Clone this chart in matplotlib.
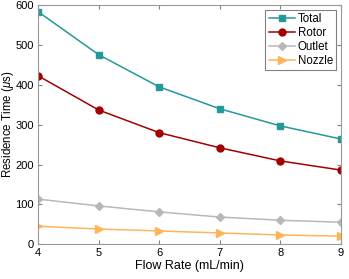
import matplotlib
matplotlib.use('Agg')
import matplotlib.pyplot as plt

plt.rcParams['font.family'] = ['Liberation Sans', 'DejaVu Sans']
plt.rcParams['mathtext.fontset'] = 'custom'
plt.rcParams['mathtext.rm'] = 'Liberation Sans'
plt.rcParams['mathtext.it'] = 'Liberation Sans:italic'

flow = [4, 5, 6, 7, 8, 9]
total = [584, 476, 395, 340, 297, 264]
rotor = [423, 337, 280, 242, 209, 186]
outlet = [113, 96, 81, 68, 60, 55]
nozzle = [45, 38, 33, 28, 23, 20]

fig = plt.figure(figsize=(3.49, 2.79), dpi=100)
ax = fig.add_axes([0.109, 0.125, 0.868, 0.856])

ax.plot(flow, total, '-s', color='#23999a', lw=1.1, ms=4.5, label='Total')
ax.plot(flow, rotor, '-o', color='#a30000', lw=1.1, ms=5, label='Rotor')
ax.plot(flow, outlet, '-D', color='#b8b8b8', lw=1.1, ms=4.5, label='Outlet')
ax.plot(flow, nozzle, '->', color='#ffb45c', lw=1.1, ms=5.5, label='Nozzle')

ax.set_xlim(4, 9)
ax.set_ylim(0, 600)
ax.set_xticks(flow)
ax.set_yticks([0, 100, 200, 300, 400, 500, 600])
ax.tick_params(direction='in', length=3, labelsize=8, color='#808080', top=True, right=True, pad=3)
for s in ax.spines.values():
    s.set_color('#999999')
ax.set_xlabel('Flow Rate (mL/min)', fontsize=9, labelpad=1)
ax.set_ylabel(r'Residence Time ($\mu$s)', fontsize=8.3)
ax.yaxis.set_label_coords(-0.074, 0.5)

leg = ax.legend(loc='upper right', fontsize=8.3, fancybox=False, framealpha=1,
                edgecolor='#808080', handlelength=2.3, borderpad=0.3,
                labelspacing=0.15, handletextpad=0.2, borderaxespad=0.4)
leg.get_frame().set_linewidth(0.8)

fig.savefig('out.png', dpi=100)
